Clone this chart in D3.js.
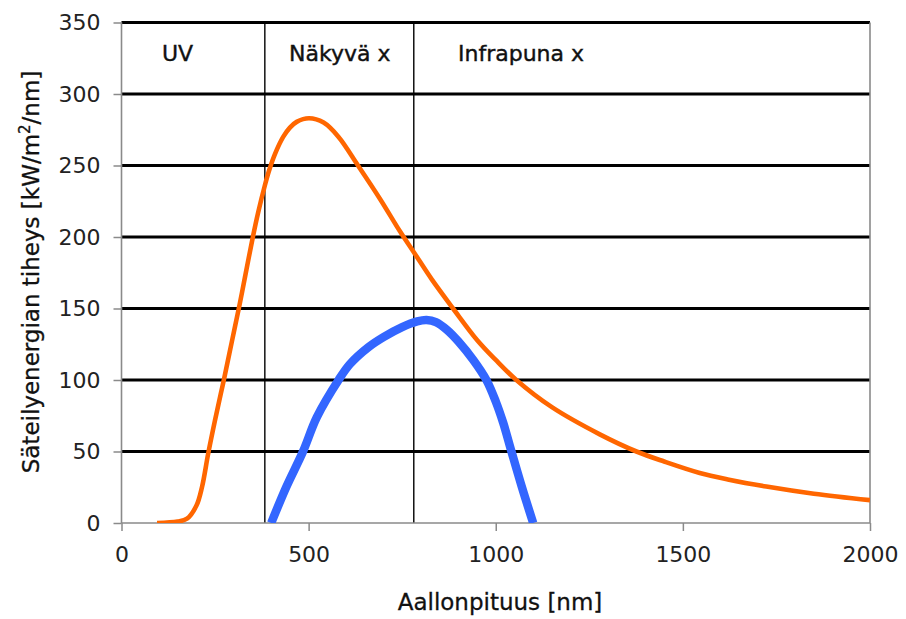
<!DOCTYPE html>
<html>
<head>
<meta charset="utf-8">
<script src="https://cdn.jsdelivr.net/npm/d3@7"></script>
<style>
  html, body { margin: 0; padding: 0; background: #fff; }
  svg { display: block; }
  text { font-family: "DejaVu Sans", Verdana, sans-serif; }
</style>
</head>
<body>
<svg id="chart" width="906" height="619"></svg>
<script>
// ---- data ----
const sunWavelength = [95, 150, 175, 200, 215, 232, 250, 265, 275, 295, 315, 330, 351, 365, 383, 395, 410, 432, 450, 468, 501, 540, 580, 632, 690, 744, 782, 830, 886, 950, 1000, 1055, 1150, 1278, 1376, 1450, 1545, 1620, 1723, 1850, 2000];
const sunRadiation  = [0, 1, 3, 12, 25, 49, 72, 90, 102, 127, 152, 172, 200, 217, 236, 247, 258, 270, 276.5, 280.5, 283, 280, 270, 250, 227, 204, 189, 170, 150, 128, 114, 100, 81, 62, 50, 43, 35, 30.5, 25.5, 20.5, 16];

const blueWavelength = [400, 440, 485, 522, 580, 610, 660, 700, 750, 790, 815, 840, 870, 900, 940, 975, 1000, 1020, 1042, 1070, 1100];
const blueRadiation  = [0, 25, 50, 74, 100, 111, 123, 130, 137, 141, 142, 140.5, 135, 127, 114, 100, 85, 70, 50, 25, 0];

const xTicks = [0, 500, 1000, 1500, 2000];
const yTicks = [0, 50, 100, 150, 200, 250, 300, 350];
const regionBounds = [383, 781];
const regionLabels = ["UV", "Näkyvä x", "Infrapuna x"];
const xTitle = "Aallonpituus [nm]";
const yTitleParts = ["Säteilyenergian tiheys [kW/m", "2", "/nm]"];

// ---- layout ----
const svg = d3.select("#chart");
const x = d3.scaleLinear().domain([0, 2000]).range([121.5, 870]);
const y = d3.scaleLinear().domain([0, 350]).range([523, 22.5]);
const grey = "#8a8a8a";

// horizontal gridlines
svg.append("g").selectAll("line")
  .data(yTicks.filter(d => d > 0))
  .join("line")
  .attr("x1", x(0)).attr("x2", x(2000))
  .attr("y1", d => y(d)).attr("y2", d => y(d))
  .attr("stroke", "#000").attr("stroke-width", 2.8);

// region boundary lines
svg.append("g").selectAll("line")
  .data(regionBounds)
  .join("line")
  .attr("x1", d => x(d)).attr("x2", d => x(d))
  .attr("y1", y(350)).attr("y2", y(0))
  .attr("stroke", "#000").attr("stroke-width", 1.4);

// axes frame
svg.append("line").attr("x1", x(0)).attr("x2", x(2000)).attr("y1", y(0)).attr("y2", y(0))
  .attr("stroke", grey).attr("stroke-width", 1.6);
svg.append("line").attr("x1", x(0)).attr("x2", x(0)).attr("y1", y(350)).attr("y2", y(0))
  .attr("stroke", grey).attr("stroke-width", 1.6);
svg.append("line").attr("x1", x(2000)).attr("x2", x(2000)).attr("y1", y(350)).attr("y2", y(0))
  .attr("stroke", grey).attr("stroke-width", 1.6);

// y axis
const yAxis = d3.axisLeft(y).tickValues(yTicks).tickSize(8).tickPadding(13).tickFormat(d3.format("d"));
const gy = svg.append("g").attr("transform", `translate(${x(0)},0)`).call(yAxis);
gy.select(".domain").remove();
gy.selectAll(".tick line").attr("stroke", grey).attr("stroke-width", 1.5);
gy.selectAll(".tick text").attr("font-size", 22).attr("fill", "#222")
  .attr("font-family", "DejaVu Sans, sans-serif");

// x axis
const xAxis = d3.axisBottom(x).tickValues(xTicks).tickSize(8).tickPadding(15).tickFormat(d3.format("d"));
const gx = svg.append("g").attr("transform", `translate(0,${y(0)})`).call(xAxis);
gx.select(".domain").remove();
gx.selectAll(".tick line").attr("stroke", grey).attr("stroke-width", 1.5);
gx.selectAll(".tick text").attr("font-size", 22).attr("fill", "#222")
  .attr("font-family", "DejaVu Sans, sans-serif");

// curves
svg.append("clipPath").attr("id", "plotclip").append("rect")
  .attr("x", x(0)).attr("y", y(350) - 10).attr("width", x(2000) - x(0)).attr("height", y(0) - y(350) + 10);

const curve = d3.curveCatmullRom.alpha(0.5);
const lineSun = d3.line().x((d, i) => x(sunWavelength[i])).y(d => y(d)).curve(curve);
const lineBlue = d3.line().x((d, i) => x(blueWavelength[i])).y(d => y(d)).curve(curve);

svg.append("path").attr("d", lineBlue(blueRadiation))
  .attr("fill", "none").attr("stroke", "#3366ff").attr("stroke-width", 8.5)
  .attr("stroke-linejoin", "round").attr("clip-path", "url(#plotclip)");

svg.append("path").attr("d", lineSun(sunRadiation))
  .attr("fill", "none").attr("stroke", "#ff6600").attr("stroke-width", 4.6)
  .attr("stroke-linejoin", "round").attr("clip-path", "url(#plotclip)");

// region labels
svg.append("g").selectAll("text")
  .data(regionLabels)
  .join("text")
  .attr("x", (d, i) => [162, 289, 458][i])
  .attr("y", 61)
  .attr("font-size", 22)
  .attr("fill", "#111")
  .attr("stroke", "#111").attr("stroke-width", 0.4)
  .text(d => d);

// x title
svg.append("text")
  .attr("x", 500).attr("y", 610)
  .attr("text-anchor", "middle")
  .attr("font-size", 23)
  .attr("fill", "#111")
  .attr("stroke", "#111").attr("stroke-width", 0.3)
  .text(xTitle);

// y title
const yt = svg.append("text")
  .attr("transform", "translate(39,272) rotate(-90)")
  .attr("text-anchor", "middle")
  .attr("font-size", 23)
  .attr("fill", "#111")
  .attr("stroke", "#111").attr("stroke-width", 0.3);
yt.append("tspan").text(yTitleParts[0]);
yt.append("tspan").attr("dy", -9).attr("font-size", 15).text(yTitleParts[1]);
yt.append("tspan").attr("dy", 9).text(yTitleParts[2]);
</script>
</body>
</html>
